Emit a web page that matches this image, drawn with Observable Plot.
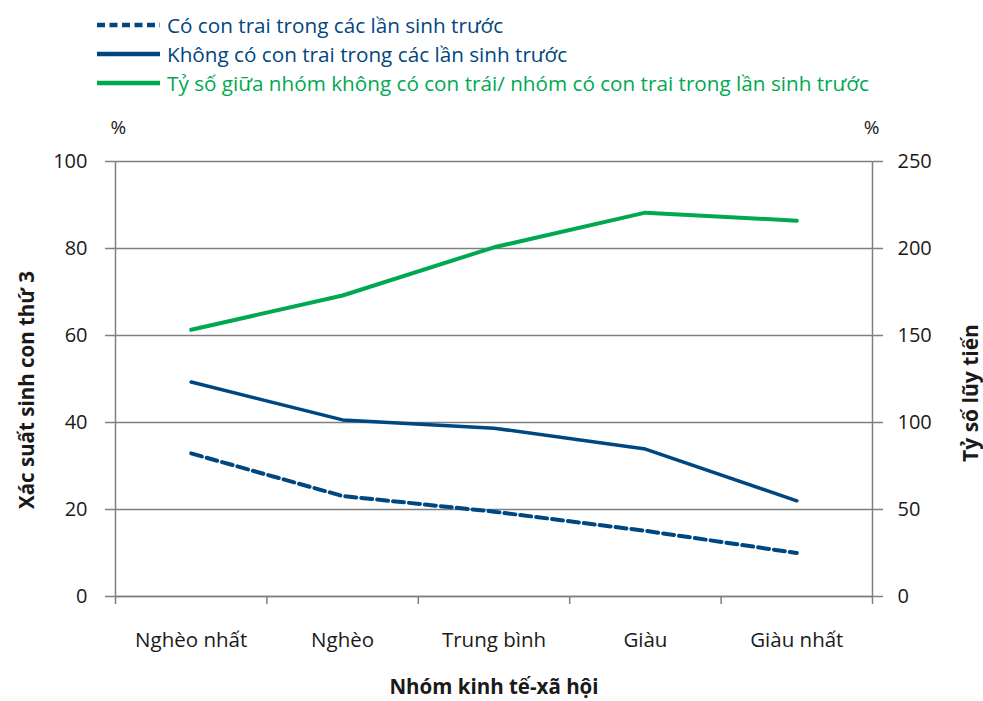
<!DOCTYPE html>
<html>
<head>
<meta charset="utf-8">
<script src="https://cdn.jsdelivr.net/npm/d3@7"></script>
<script src="https://cdn.jsdelivr.net/npm/@observablehq/plot@0.6"></script>
<style>
  html, body { margin: 0; padding: 0; background: white; }
  body { width: 983px; height: 701px; overflow: hidden; font-family: 'Open Sans', sans-serif; }
  #legend { position: relative; height: 100px; width: 983px; }
  .row { position: absolute; left: 97px; display: flex; align-items: center; height: 28px; font-size: 20.7px; white-space: nowrap; }
  .row svg { margin-right: 7px; }
</style>
</head>
<body>
<div id="legend"></div>
<div id="chart"></div>
<script>
const categories = ["Nghèo nhất", "Nghèo", "Trung bình", "Giàu", "Giàu nhất"];
const withSon = [32.9, 23.1, 19.5, 15.1, 10.0];
const withoutSon = [49.3, 40.6, 38.7, 33.9, 22.0];
const ratio = [153.3, 173.0, 200.7, 220.6, 216.0];
const leftTicks = [0, 20, 40, 60, 80, 100];
const rightTicks = [0, 50, 100, 150, 200, 250];
const seriesNames = [
  "Có con trai trong các lần sinh trước",
  "Không có con trai trong các lần sinh trước",
  "Tỷ số giữa nhóm không có con trái/ nhóm có con trai trong lần sinh trước"
];
const colors = ["#00467f", "#00467f", "#00a94f"];
const dashes = ["11,5", null, null];
const legendDashes = ["8,4.5", null, null];
const leftLabel = "Xác suất sinh con thứ 3";
const rightLabel = "Tỷ số lũy tiến";
const xLabel = "Nhóm kinh tế-xã hội";

// Legend
const legend = document.getElementById("legend");
seriesNames.forEach((name, i) => {
  const row = document.createElement("div");
  row.className = "row";
  row.style.top = (11 + i * 29) + "px";
  row.style.color = i === 2 ? "#00a94f" : "#00467f";
  const sw = `<svg width="63" height="10"><line x1="0" x2="63" y1="5" y2="5" stroke="${colors[i]}" stroke-width="4.5" ${legendDashes[i] ? `stroke-dasharray="${legendDashes[i]}"` : ""}/></svg>`;
  row.innerHTML = sw + `<span>${name}</span>`;
  legend.appendChild(row);
});

const rows = categories.map((c, i) => ({
  cat: c, pos: i + 0.5, withSon: withSon[i], withoutSon: withoutSon[i], ratio: ratio[i]
}));
const ratioFactor = rightTicks[rightTicks.length - 1] / leftTicks[leftTicks.length - 1];
const gray = "#7f7f7f";

const chart = Plot.plot({
  width: 983,
  height: 601,
  marginTop: 61,
  marginBottom: 105,
  marginLeft: 115,
  marginRight: 111,
  style: { fontFamily: "'Open Sans', sans-serif", fontSize: "20px", color: "#1a1a1a", background: "white", overflow: "visible" },
  x: { type: "linear", domain: [0, categories.length] },
  y: { domain: [0, 100] },
  marks: [
    Plot.gridY(leftTicks, { stroke: gray, strokeOpacity: 1, strokeWidth: 1.5 }),
    Plot.axisX(d3.range(categories.length + 1), { tickSize: 8, tickFormat: () => "", stroke: gray, strokeWidth: 1.5, label: null }),
    Plot.axisX(rows.map(d => d.pos), { tickSize: 0, tickPadding: 36, tickFormat: d => categories[Math.floor(d)], label: null, fontSize: 20.5 }),
    Plot.ruleY([0], { stroke: gray, strokeWidth: 1.5 }),
    Plot.ruleX([0, categories.length], { stroke: gray, strokeWidth: 1.5 }),
    Plot.axisY(leftTicks, { anchor: "left", tickSize: 10, tickPadding: 18, stroke: gray, strokeWidth: 1.5, label: null, fontSize: 20 }),
    Plot.axisY(leftTicks, { anchor: "right", tickSize: 10, tickPadding: 15, stroke: gray, strokeWidth: 1.5, label: null, tickFormat: d => d * ratioFactor, fontSize: 20 }),
    Plot.line(rows, { x: "pos", y: "withSon", stroke: colors[0], strokeWidth: 4, strokeDasharray: dashes[0] }),
    Plot.line(rows, { x: "pos", y: "withoutSon", stroke: colors[1], strokeWidth: 3.5 }),
    Plot.line(rows, { x: "pos", y: d => d.ratio / ratioFactor, stroke: colors[2], strokeWidth: 4 }),
    Plot.text(["%"], { frameAnchor: "top-left", dy: -41, dx: -5, fontSize: 19 }),
    Plot.text(["%"], { frameAnchor: "top-right", dy: -41, dx: 7, fontSize: 19 }),
    Plot.text([leftLabel], { frameAnchor: "left", textAnchor: "middle", dx: -88, dy: 11, rotate: -90, fontWeight: "bold", fontSize: 20.5 }),
    Plot.text([rightLabel], { frameAnchor: "right", textAnchor: "middle", dx: 99, dy: 14, rotate: -90, fontWeight: "bold", fontSize: 21 }),
    Plot.text([xLabel], { frameAnchor: "bottom", dy: 97, fontWeight: "bold", fontSize: 20.5 })
  ]
});
document.getElementById("chart").appendChild(chart);
</script>
</body>
</html>
